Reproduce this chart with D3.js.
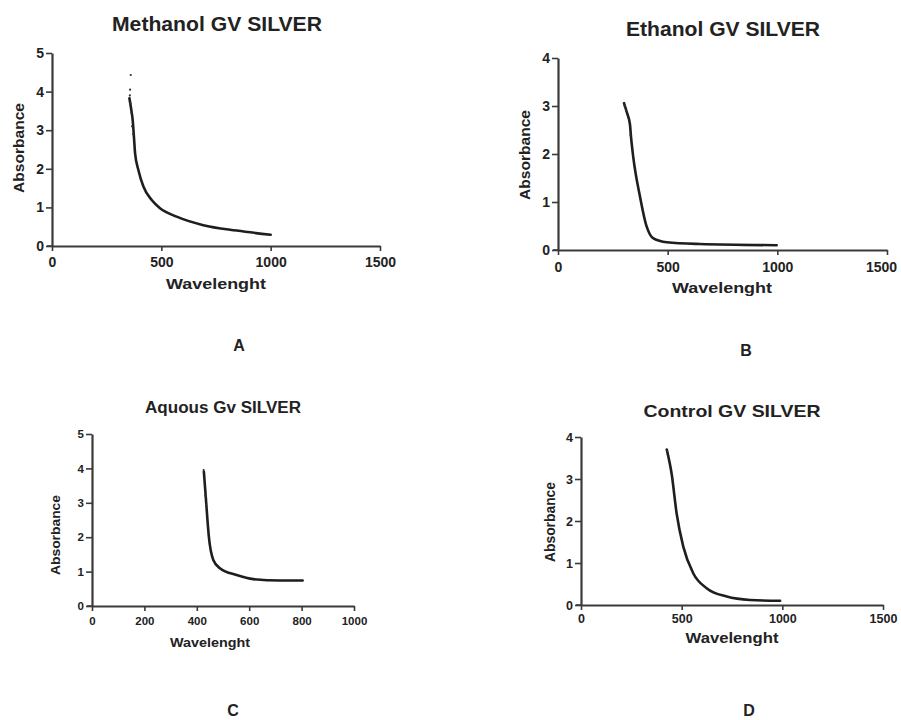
<!DOCTYPE html>
<html>
<head>
<meta charset="utf-8">
<script src="https://cdn.jsdelivr.net/npm/d3@7"></script>
<style>
  html, body { margin: 0; padding: 0; background: #ffffff; }
  svg { display: block; }
  text { font-family: "Liberation Sans", Arial, sans-serif; font-weight: bold; fill: #222; }
</style>
</head>
<body>
<svg id="chart" width="901" height="720"></svg>
<script>
// ---------- DATA ----------
const titles = ["Methanol GV SILVER", "Ethanol GV SILVER", "Aquous Gv SILVER", "Control GV SILVER"];
const panelLetters = ["A", "B", "C", "D"];
const xLabel = "Wavelenght";
const yLabel = "Absorbance";

const xTicksA = [0, 500, 1000, 1500];
const yTicksA = [0, 1, 2, 3, 4, 5];
const xTicksB = [0, 500, 1000, 1500];
const yTicksB = [0, 1, 2, 3, 4];
const xTicksC = [0, 200, 400, 600, 800, 1000];
const yTicksC = [0, 1, 2, 3, 4, 5];
const xTicksD = [0, 500, 1000, 1500];
const yTicksD = [0, 1, 2, 3, 4];

// [wavelength, absorbance]
const methanol = [[354,3.83],[362,3.55],[369,3.26],[375,2.8],[380,2.4],[395,1.97],[418,1.54],[456,1.19],[494,0.98],[570,0.76],[692,0.54],[845,0.40],[1000,0.29]];
const methanolScatter = [[360,4.43],[357,4.05],[356,3.9],[359,3.7],[363,3.45],[366,3.1],[371,2.9]];
const ethanol = [[301,3.06],[315,2.85],[328,2.62],[333,2.35],[343,1.94],[374,1.11],[404,0.49],[435,0.24],[496,0.16],[647,0.125],[997,0.10]];
const ethanolScatter = [[330,2.40],[304,3.0],[310,2.9]];
const aquous = [[427,3.90],[432,3.4],[437,2.88],[446,2.02],[463,1.34],[488,1.10],[552,0.90],[616,0.78],[718,0.74],[804,0.74]];
const aquousScatter = [[426,3.95],[433,3.2],[436,2.95]];
const control = [[426,3.70],[450,3.13],[475,2.18],[508,1.39],[558,0.75],[624,0.40],[724,0.20],[840,0.12],[989,0.10]];
const controlScatter = [[428,3.66],[455,3.0]];

// ---------- LAYOUT ----------
const panels = [
  { title: titles[0], letter: panelLetters[0], line: methanol, scatter: methanolScatter,
    xDomain: [0, 1500], yDomain: [0, 5], xTicks: xTicksA, yTicks: yTicksA,
    left: 52, right: 380, top: 53, bottom: 246,
    tickFont: 14, labelFont: 15.5, titleFont: 19.5, titleLen: 210,
    titleX: 217, titleY: 31, xlabX: 216, xlabY: 289, xlabLen: 100, ylabX: 24, ylabY: 148, ylabLen: 90,
    tickY: 267, letterX: 239, letterY: 351, lastTickShift: 0 },
  { title: titles[1], letter: panelLetters[1], line: ethanol, scatter: ethanolScatter,
    xDomain: [0, 1500], yDomain: [0, 4], xTicks: xTicksB, yTicks: yTicksB,
    left: 558, right: 887, top: 58, bottom: 250,
    tickFont: 14, labelFont: 15.5, titleFont: 19.5, titleLen: 194,
    titleX: 723, titleY: 36, xlabX: 722, xlabY: 293, xlabLen: 100, ylabX: 530, ylabY: 155, ylabLen: 90,
    tickY: 272, letterX: 746, letterY: 356, lastTickShift: -6 },
  { title: titles[2], letter: panelLetters[2], line: aquous, scatter: aquousScatter,
    xDomain: [0, 1000], yDomain: [0, 5], xTicks: xTicksC, yTicks: yTicksC,
    left: 92, right: 354, top: 434, bottom: 606,
    tickFont: 11.5, labelFont: 13, titleFont: 16, titleLen: 156,
    titleX: 223, titleY: 413, xlabX: 210, xlabY: 647, xlabLen: 80, ylabX: 60, ylabY: 535, ylabLen: 80,
    tickY: 625, letterX: 233, letterY: 716, lastTickShift: 0 },
  { title: titles[3], letter: panelLetters[3], line: control, scatter: controlScatter,
    xDomain: [0, 1500], yDomain: [0, 4], xTicks: xTicksD, yTicks: yTicksD,
    left: 581, right: 883, top: 437, bottom: 605,
    tickFont: 12.5, labelFont: 14, titleFont: 16.5, titleLen: 177,
    titleX: 732, titleY: 417, xlabX: 732, xlabY: 643, xlabLen: 93, ylabX: 555, ylabY: 522, ylabLen: 80,
    tickY: 623, letterX: 749, letterY: 716, lastTickShift: 0 }
];

const svg = d3.select("#chart");
const axisColor = "#3a3a3a";

panels.forEach(p => {
  const x = d3.scaleLinear().domain(p.xDomain).range([p.left, p.right]);
  const y = d3.scaleLinear().domain(p.yDomain).range([p.bottom, p.top]);
  const g = svg.append("g");

  // title
  g.append("text").attr("x", p.titleX).attr("y", p.titleY)
    .attr("text-anchor", "middle").attr("font-size", p.titleFont)
    .attr("textLength", p.titleLen).attr("lengthAdjust", "spacingAndGlyphs")
    .text(p.title);

  // y axis
  const ya = g.append("g").attr("transform", `translate(${p.left},0)`)
    .call(d3.axisLeft(y).tickValues(p.yTicks).tickSize(6).tickPadding(2).tickSizeOuter(0).tickFormat(d3.format("d")));
  // x axis
  const xa = g.append("g").attr("transform", `translate(0,${p.bottom})`)
    .call(d3.axisBottom(x).tickValues(p.xTicks).tickSize(5).tickPadding(3).tickSizeOuter(0).tickFormat(d3.format("d")));

  [ya, xa].forEach(a => {
    a.select(".domain").attr("stroke", axisColor).attr("stroke-width", 2.2);
    a.selectAll(".tick line").attr("stroke", axisColor).attr("stroke-width", 1.6);
    a.selectAll(".tick text").attr("fill", "#222").attr("font-size", p.tickFont)
      .attr("font-family", "Liberation Sans, Arial, sans-serif").attr("font-weight", "bold");
  });
  xa.selectAll(".tick text").attr("dy", null).attr("y", p.tickY - p.bottom);
  const nT = p.xTicks.length;
  xa.selectAll(".tick text").filter((d, i) => i === nT - 1).attr("x", p.lastTickShift);
  // extend x axis slightly to the left of the y axis (Prism style)
  g.append("line").attr("x1", p.left - 5).attr("x2", p.left).attr("y1", p.bottom).attr("y2", p.bottom)
    .attr("stroke", axisColor).attr("stroke-width", 1.6);

  // axis labels
  g.append("text").attr("x", p.xlabX).attr("y", p.xlabY).attr("text-anchor", "middle")
    .attr("font-size", p.labelFont).attr("textLength", p.xlabLen).attr("lengthAdjust", "spacingAndGlyphs")
    .text(xLabel);
  g.append("text").attr("transform", `translate(${p.ylabX},${p.ylabY}) rotate(-90)`)
    .attr("text-anchor", "middle").attr("font-size", p.labelFont)
    .attr("textLength", p.ylabLen).attr("lengthAdjust", "spacingAndGlyphs")
    .text(yLabel);

  // curve
  const line = d3.line().x(d => x(d[0])).y(d => y(d[1])).curve(d3.curveMonotoneX);
  g.append("path").datum(p.line).attr("d", line)
    .attr("fill", "none").attr("stroke", "#1e1e1e").attr("stroke-width", 2.6)
    .attr("stroke-linecap", "round").attr("stroke-linejoin", "round");
  g.selectAll("circle.s").data(p.scatter).join("circle")
    .attr("cx", d => x(d[0])).attr("cy", d => y(d[1])).attr("r", 1.1).attr("fill", "#333");

  // panel letter
  g.append("text").attr("x", p.letterX).attr("y", p.letterY).attr("text-anchor", "middle")
    .attr("font-size", 16).text(p.letter);
});
</script>
</body>
</html>
